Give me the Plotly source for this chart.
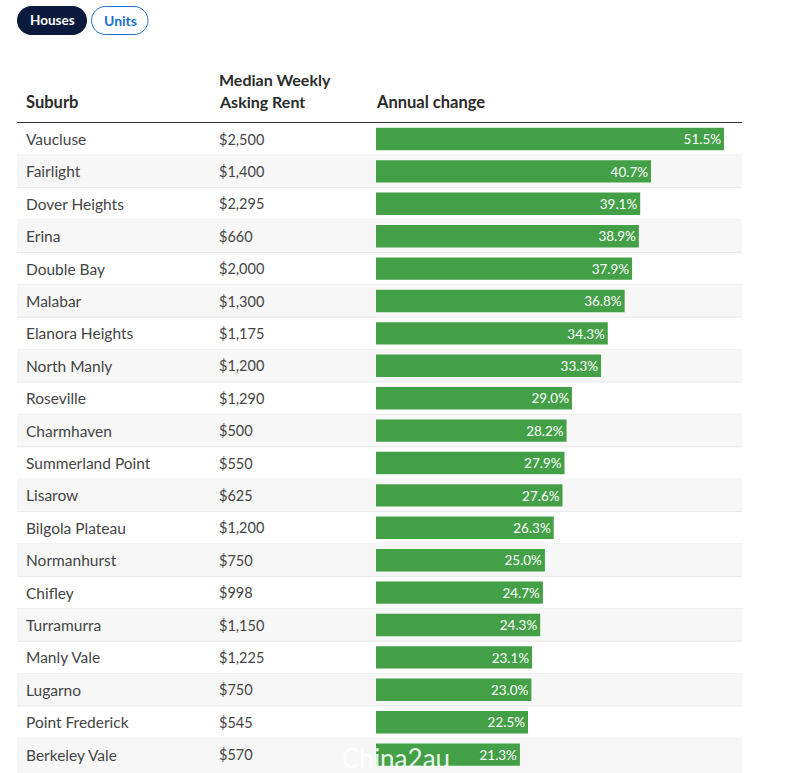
"""Median weekly asking rent table with inline annual change bars."""

import plotly.graph_objects as go

WIDTH = 791
HEIGHT = 773
FONT = "Lato"

suburbs = [
    "Vaucluse", "Fairlight", "Dover Heights", "Erina", "Double Bay",
    "Malabar", "Elanora Heights", "North Manly", "Roseville", "Charmhaven",
    "Summerland Point", "Lisarow", "Bilgola Plateau", "Normanhurst", "Chifley",
    "Turramurra", "Manly Vale", "Lugarno", "Point Frederick", "Berkeley Vale",
]
rents = [
    "$2,500", "$1,400", "$2,295", "$660", "$2,000",
    "$1,300", "$1,175", "$1,200", "$1,290", "$500",
    "$550", "$625", "$1,200", "$750", "$998",
    "$1,150", "$1,225", "$750", "$545", "$570",
]
annual_change = [
    51.5, 40.7, 39.1, 38.9, 37.9,
    36.8, 34.3, 33.3, 29.0, 28.2,
    27.9, 27.6, 26.3, 25.0, 24.7,
    24.3, 23.1, 23.0, 22.5, 21.3,
]
rows = list(range(len(suburbs)))


def px_x(value):
    return value / WIDTH


def px_y(value):
    return 1 - value / HEIGHT


def pill(x0, x1, y0, y1):
    """Rounded button outline in paper coordinates, from pixel bounds."""
    r = (y1 - y0) / 2
    k = r * 0.45
    points = [
        f"M {px_x(x0 + r)} {px_y(y0)}",
        f"L {px_x(x1 - r)} {px_y(y0)}",
        f"C {px_x(x1 - k)} {px_y(y0)} {px_x(x1)} {px_y(y0 + k)} {px_x(x1)} {px_y(y0 + r)}",
        f"C {px_x(x1)} {px_y(y1 - k)} {px_x(x1 - k)} {px_y(y1)} {px_x(x1 - r)} {px_y(y1)}",
        f"L {px_x(x0 + r)} {px_y(y1)}",
        f"C {px_x(x0 + k)} {px_y(y1)} {px_x(x0)} {px_y(y1 - k)} {px_x(x0)} {px_y(y0 + r)}",
        f"C {px_x(x0)} {px_y(y0 + k)} {px_x(x0 + k)} {px_y(y0)} {px_x(x0 + r)} {px_y(y0)}",
        "Z",
    ]
    return " ".join(points)


fig = go.Figure(
    go.Bar(
        x=annual_change,
        y=rows,
        orientation="h",
        width=0.69,
        marker=dict(color="#43a047", line=dict(width=0)),
        text=[f"{v:.1f}%" for v in annual_change],
        textposition="inside",
        insidetextanchor="end",
        textangle=0,
        textfont=dict(family=FONT, size=14, color="white"),
        hoverinfo="skip",
    )
)

last_row = rows[-1]
shapes = []
for i in rows:
    if i % 2 == 1:
        shapes.append(dict(
            type="rect", layer="below", xref="paper", yref="y",
            x0=px_x(17), x1=px_x(742), y0=i - 0.5, y1=i + (1 if i == last_row else 0.5),
            fillcolor="#f7f7f7", line=dict(width=0),
        ))
    if i != last_row:
        shapes.append(dict(
            type="line", layer="below", xref="paper", yref="y",
            x0=px_x(17), x1=px_x(742), y0=i + 0.5, y1=i + 0.5,
            line=dict(color="#e8e8e8", width=1),
        ))

shapes.append(dict(
    type="line", xref="paper", yref="paper",
    x0=px_x(17), x1=px_x(742), y0=px_y(122.5), y1=px_y(122.5),
    line=dict(color="#333333", width=1),
))
shapes.append(dict(
    type="path", xref="paper", yref="paper", path=pill(17, 87, 6, 35),
    fillcolor="#0b1a3c", line=dict(width=0),
))
shapes.append(dict(
    type="path", xref="paper", yref="paper", path=pill(91.5, 148, 6.5, 34.5),
    fillcolor="white", line=dict(color="#1a73d0", width=1),
))


def label(text, x, y, size=15.5, color="#444444", bold=False, yref="paper", anchor="left"):
    return dict(
        text=f"<b>{text}</b>" if bold else text,
        x=px_x(x), y=y, xref="paper", yref=yref,
        xanchor=anchor, yanchor="middle", showarrow=False,
        font=dict(family=FONT, size=size, color=color),
    )


annotations = []
for i in rows:
    annotations.append(label(suburbs[i], 24, i, yref="y"))
    annotations.append(label(rents[i], 217, i, size=14.5, yref="y"))

header_color = "#2b2b2b"
annotations += [
    label("Suburb", 24, px_y(102), size=16.5, color=header_color, bold=True),
    label("Median Weekly", 217, px_y(79), size=16, color=header_color, bold=True),
    label("Asking Rent", 217, px_y(102), size=16, color=header_color, bold=True),
    label("Annual change", 374, px_y(102), size=16.5, color=header_color, bold=True),
    label("Houses", 52.5, px_y(20), size=13.5, color="white", bold=True, anchor="center"),
    label("Units", 120, px_y(20), size=14, color="#1a73d0", bold=True, anchor="center"),
    label("China2au", 340, px_y(758), size=26, color="rgba(255,255,255,0.9)"),
]

# one data unit is 6.757 px, a row 32.4 px, zero sits at pixel 376, row 0 at pixel 139
fig.update_layout(
    width=WIDTH,
    height=HEIGHT,
    margin=dict(l=0, r=0, t=0, b=0),
    paper_bgcolor="white",
    plot_bgcolor="white",
    showlegend=False,
    shapes=shapes,
    annotations=annotations,
    xaxis=dict(range=[-376 / 6.757, (WIDTH - 376) / 6.757], visible=False, fixedrange=True),
    yaxis=dict(range=[(HEIGHT - 139) / 32.4, -139 / 32.4], visible=False, fixedrange=True),
)

fig.write_html(
    "out.html",
    config={"displayModeBar": False},
    post_script="document.body.style.margin = '0';",
)
